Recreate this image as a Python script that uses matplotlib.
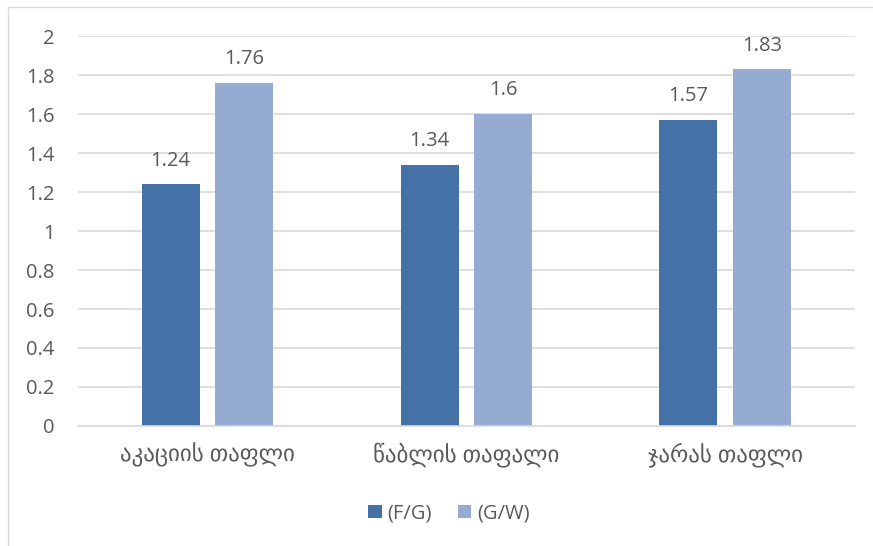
import numpy as np
import matplotlib.pyplot as plt
from matplotlib.lines import Line2D

plt.rcParams['font.family'] = ['Open Sans', 'DejaVu Sans']

categories = ["აკაციის თაფლი", "წაბლის თაფალი", "ჯარას თაფლი"]
fg = [1.24, 1.34, 1.57]
gw = [1.76, 1.6, 1.83]
series_names = ["(F/G)", "(G/W)"]
yticks = [0, 0.2, 0.4, 0.6, 0.8, 1, 1.2, 1.4, 1.6, 1.8, 2]

c_dark = "#4472a6"
c_light = "#95abd1"
txt = "#595959"

fig = plt.figure(figsize=(8.73, 5.46), dpi=100)
ax = fig.add_axes([0.0893, 0.2198, 0.8897, 0.7142])

x = np.arange(len(categories))
w = 0.224
off = 0.142
b1 = ax.bar(x - off, fg, w, color=c_dark, label=series_names[0])
b2 = ax.bar(x + off, gw, w, color=c_light, label=series_names[1])

for bars, vals in ((b1, fg), (b2, gw)):
    for r, v in zip(bars, vals):
        ax.text(r.get_x() + r.get_width() / 2, v + 0.07, f"{v:g}",
                ha="center", va="bottom", fontsize=14.5, color=txt)

ax.set_xlim(-0.5, 2.5)
ax.set_ylim(0, 2)
ax.set_yticks(yticks)
ax.set_yticklabels([f"{t:g}" for t in yticks])
ax.set_xticks(x)
ax.set_xticklabels(categories)
ax.tick_params(axis="y", length=0, labelsize=14.5, labelcolor=txt, pad=17)
ax.tick_params(axis="x", length=0, labelsize=16.5, labelcolor=txt, pad=12)
ax.grid(axis="y", color="#d9d9d9", linewidth=1.2)
ax.set_axisbelow(True)
for s in ("top", "right", "left"):
    ax.spines[s].set_visible(False)
ax.spines["bottom"].set_color("#d9d9d9")
ax.spines["bottom"].set_linewidth(1.2)

ax.legend(loc="center", bbox_to_anchor=(0.478, -0.225), ncol=2, frameon=False,
          fontsize=14.5, labelcolor=txt, handlelength=0.65, handleheight=0.65,
          handletextpad=0.3, columnspacing=1.3)

# outer chart frame
fig.add_artist(Line2D([8 / 873, 1], [1 - 7 / 546, 1 - 7 / 546],
                      transform=fig.transFigure, color="#d9d9d9", lw=1))
fig.add_artist(Line2D([8 / 873, 8 / 873], [0, 1 - 7 / 546],
                      transform=fig.transFigure, color="#d9d9d9", lw=1))

fig.savefig("out.png", dpi=100)
